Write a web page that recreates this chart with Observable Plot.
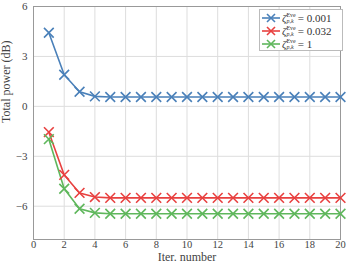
<!DOCTYPE html>
<html><head><meta charset="utf-8">
<script src="https://cdn.jsdelivr.net/npm/d3@7"></script>
<script src="https://cdn.jsdelivr.net/npm/@observablehq/plot@0.6"></script>
<style>
body{margin:0;background:#fff;}
#wrap{position:relative;width:346px;height:263px;font-family:"Liberation Serif",serif;}
#legend{position:absolute;left:259px;top:9px;width:82px;height:40px;border:1px solid #bbb;background:#fff;font-size:11px;color:#333;}
.row{position:absolute;left:2px;height:13px;display:flex;align-items:center;white-space:nowrap;}
.row svg{margin-right:2px;}
.z{font-style:italic;}
.ss{display:inline-flex;flex-direction:column;font-size:6px;line-height:6px;vertical-align:middle;margin-right:2px;}
</style></head>
<body><div id="wrap"></div>
<script>
const iters = d3.range(1, 21);
const labels = ["0.001", "0.032", "1"];
const colors = ["#4a80b9", "#e8403f", "#5fb75c"];
const blue  = [4.42, 1.9, 0.88, 0.6, 0.56, 0.56, 0.56, 0.56, 0.56, 0.56, 0.56, 0.56, 0.56, 0.56, 0.56, 0.56, 0.56, 0.56, 0.56, 0.56];
const red   = [-1.55, -4.12, -5.2, -5.45, -5.5, -5.5, -5.5, -5.5, -5.5, -5.5, -5.5, -5.5, -5.5, -5.5, -5.5, -5.5, -5.5, -5.5, -5.5, -5.5];
const green = [-1.97, -4.95, -6.15, -6.4, -6.45, -6.45, -6.45, -6.45, -6.45, -6.45, -6.45, -6.45, -6.45, -6.45, -6.45, -6.45, -6.45, -6.45, -6.45, -6.45];
const xTicks = [0, 2, 4, 6, 8, 10, 12, 14, 16, 18, 20];
const yTicks = [-6, -3, 0, 3, 6];
const xLabel = "Iter. number";
const yLabel = "Total power (dB)";

const series = [blue, red, green];
const data = [];
series.forEach((s, k) => s.forEach((v, i) => data.push({x: iters[i], y: v, s: labels[k]})));

const chart = Plot.plot({
  width: 346, height: 263,
  marginLeft: 33, marginRight: 6, marginTop: 6, marginBottom: 24,
  style: {fontFamily: "Liberation Serif, serif", fontSize: "11px", color: "#444"},
  x: {domain: [0, 20]},
  y: {domain: [-8, 6]},
  color: {domain: labels, range: colors},
  marks: [
    Plot.gridX(xTicks, {stroke: "#ddd", strokeOpacity: 1}),
    Plot.gridY(yTicks, {stroke: "#ddd", strokeOpacity: 1}),
    Plot.frame({stroke: "#999"}),
    Plot.axisX(xTicks, {label: null, tickSize: 0, tickPadding: 1, fontSize: 10.5}),
    Plot.axisY(yTicks, {label: null, tickSize: 0, tickPadding: 6, fontSize: 11, tickFormat: d => d < 0 ? "−" + Math.abs(d) : String(d)}),
    Plot.text([xLabel], {frameAnchor: "bottom", dy: 21, fontSize: 12, text: d => d}),
    Plot.text([yLabel], {frameAnchor: "left", dx: -27, rotate: -90, fontSize: 12, text: d => d}),
    Plot.line(data, {x: "x", y: "y", stroke: "s", strokeWidth: 1.6}),
    Plot.dot(data, {x: "x", y: "y", stroke: "s", symbol: "times", r: 4.5, strokeWidth: 1.6})
  ]
});
const wrap = document.getElementById("wrap");
wrap.appendChild(chart);

const leg = document.createElement("div");
leg.id = "legend";
labels.forEach((l, k) => {
  const r = document.createElement("div");
  r.className = "row";
  r.style.top = (1 + k * 13) + "px";
  r.innerHTML = `<svg width="18" height="12"><line x1="0" y1="6" x2="18" y2="6" stroke="${colors[k]}" stroke-width="1.6"/><path d="M5,2L13,10M13,2L5,10" stroke="${colors[k]}" stroke-width="1.6"/></svg><span class="z">ζ</span><span class="ss"><span>Eve</span><span><i>p,k</i></span></span>= ${l}`;
  leg.appendChild(r);
});
wrap.appendChild(leg);
</script></body></html>
